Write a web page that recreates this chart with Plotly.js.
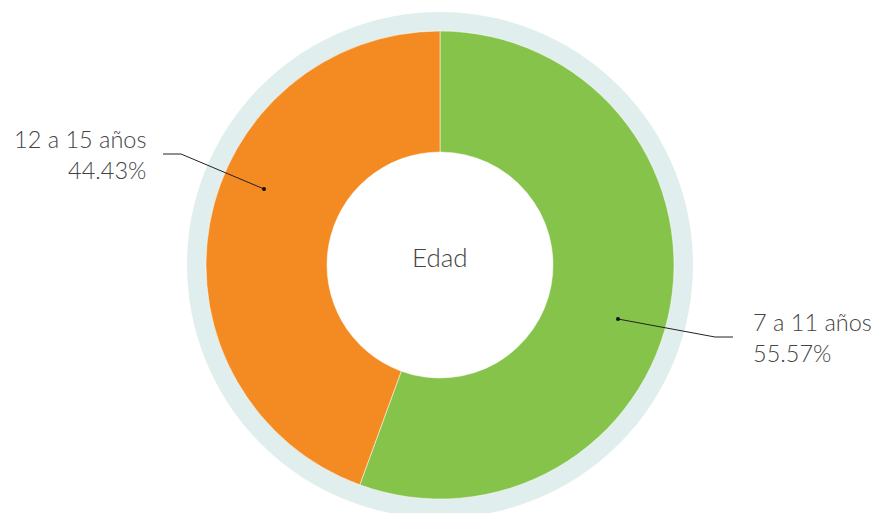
<!DOCTYPE html>
<html><head><meta charset="utf-8">
<script src="https://cdn.plot.ly/plotly-3.0.1.min.js"></script>
<style>html,body{margin:0;padding:0;background:#fff}</style>
</head><body><div id="chart" style="width:877px;height:513px"></div>
<script>
const categories = ["7 a 11 años", "12 a 15 años"];
const values = [55.57, 44.43];
const colors = ["#86c34b", "#f38a22"];
const centerLabel = "Edad";

const W = 877, H = 513;
const px = x => x / W, py = y => 1 - y / H;
const cx = 440, cy = 265, R = 234, ringR = 252;

const fontFam = "Lato, 'Open Sans', sans-serif";
const txtColor = "#444444";

const data = [{
  type: "pie",
  labels: categories,
  values: values,
  sort: false,
  direction: "clockwise",
  rotation: 0,
  hole: 113 / R,
  textinfo: "none",
  hoverinfo: "label+percent",
  marker: {colors: colors, line: {color: "#ffffff", width: 0.5}},
  domain: {x: [px(cx - R), px(cx + R)], y: [py(cy + R), py(cy - R)]},
  showlegend: false
}];

function fmt(v){ return v.toFixed(2) + "%"; }

const shapes = [
  {type: "circle", xref: "paper", yref: "paper", layer: "below",
   x0: px(cx - (R + ringR) / 2), x1: px(cx + (R + ringR) / 2),
   y0: py(cy + (R + ringR) / 2), y1: py(cy - (R + ringR) / 2),
   line: {color: "#e0efed", width: ringR - R + 2}, fillcolor: "rgba(0,0,0,0)"},
  {type: "path", xref: "paper", yref: "paper",
   path: `M ${px(618)} ${py(319)} L ${px(715)} ${py(337)} L ${px(733)} ${py(337)}`,
   line: {color: "#222", width: 1}},
  {type: "path", xref: "paper", yref: "paper",
   path: `M ${px(264)} ${py(189)} L ${px(181)} ${py(154)} L ${px(163)} ${py(154)}`,
   line: {color: "#222", width: 1}},
  {type: "circle", xref: "paper", yref: "paper", fillcolor: "#111", line: {width: 0},
   x0: px(616), x1: px(620), y0: py(321), y1: py(317)},
  {type: "circle", xref: "paper", yref: "paper", fillcolor: "#111", line: {width: 0},
   x0: px(262), x1: px(266), y0: py(191), y1: py(187)}
];

const annotations = [
  {text: centerLabel, x: px(cx), y: py(257), xref: "paper", yref: "paper",
   showarrow: false, font: {family: fontFam, size: 26, color: txtColor, weight: 300}},
  {text: categories[0] + "<br>" + fmt(values[0]), x: px(751), y: py(337), xref: "paper", yref: "paper",
   xanchor: "left", yanchor: "middle", align: "left", showarrow: false,
   font: {family: fontFam, size: 23.5, color: txtColor, weight: 300}},
  {text: categories[1] + "<br>" + fmt(values[1]), x: px(148), y: py(155), xref: "paper", yref: "paper",
   xanchor: "right", yanchor: "middle", align: "right", showarrow: false,
   font: {family: fontFam, size: 23.5, color: txtColor, weight: 300}}
];

const layout = {
  width: W, height: H,
  margin: {l: 0, r: 0, t: 0, b: 0},
  paper_bgcolor: "#ffffff",
  showlegend: false,
  shapes: shapes,
  annotations: annotations
};
Plotly.newPlot("chart", data, layout, {displayModeBar: false, staticPlot: true});
</script></body></html>
